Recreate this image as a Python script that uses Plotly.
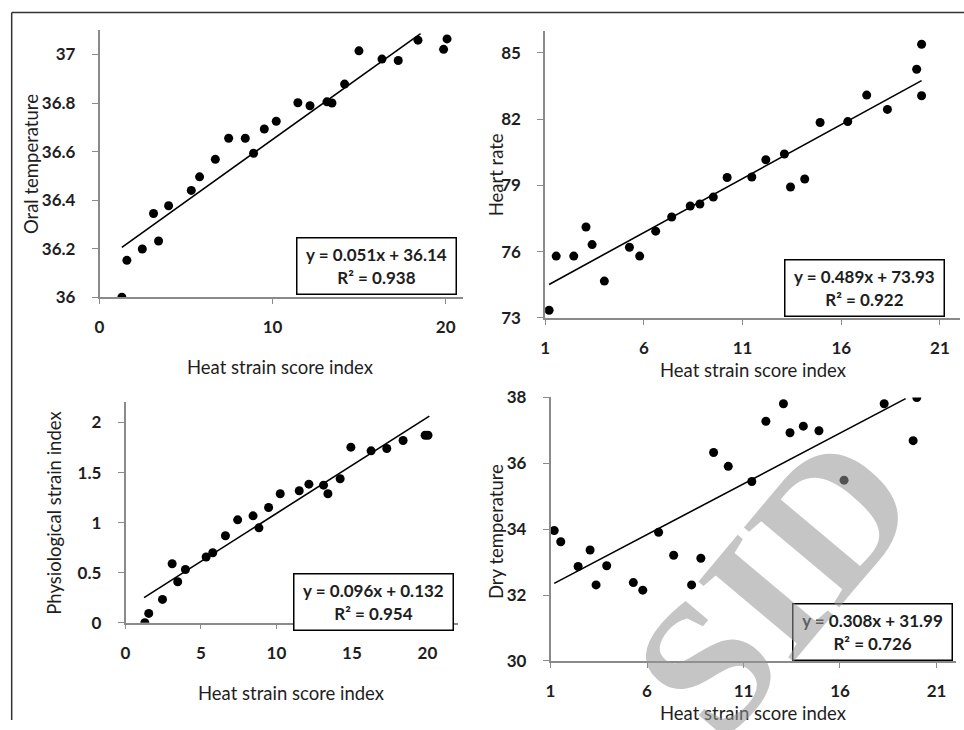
import plotly.graph_objects as go

# ---------------- data ----------------
x_label = "Heat strain score index"

# Panel 1: Oral temperature
p1_x = [1.29, 1.58, 2.47, 3.12, 3.41, 3.99, 5.30, 5.78, 6.69, 7.46, 8.42, 8.90, 9.52, 10.21,
        11.46, 12.16, 13.14, 13.43, 14.16, 14.99, 16.32, 17.26, 18.40, 19.88, 20.08]
p1_y = [36.00, 36.152, 36.199, 36.345, 36.232, 36.377, 36.440, 36.496, 36.568, 36.655, 36.655,
        36.593, 36.693, 36.725, 36.801, 36.789, 36.805, 36.800, 36.878, 37.015, 36.981, 36.975,
        37.059, 37.021, 37.064]
p1_fit = (0.051, 36.14)
p1_fit_x = [1.29, 18.55]
p1_eq = "y = 0.051x + 36.14"
p1_r2 = "0.938"
p1_ylabel = "Oral temperature"
p1_xticks = [0, 10, 20]
p1_yticks = [36, 36.2, 36.4, 36.6, 36.8, 37]
p1_yticktext = ["36", "36.2", "36.4", "36.6", "36.8", "37"]

# Panel 2: Heart rate
p2_x = [1.20, 1.56, 2.45, 3.07, 3.38, 4.00, 5.27, 5.79, 6.60, 7.41, 8.35, 8.84, 9.52, 10.22,
        11.47, 12.18, 13.12, 13.43, 14.15, 14.93, 16.33, 17.29, 18.34, 19.82, 20.07, 20.07]
p2_y = [73.35, 75.80, 75.80, 77.12, 76.32, 74.67, 76.20, 75.80, 76.93, 77.57, 78.07, 78.16,
        78.47, 79.36, 79.38, 80.16, 80.42, 78.93, 79.29, 81.85, 81.89, 83.09, 82.44, 84.26,
        85.39, 83.06]
p2_fit = (0.489, 73.93)
p2_fit_x = [1.20, 20.07]
p2_eq = "y = 0.489x + 73.93"
p2_r2 = "0.922"
p2_ylabel = "Heart rate"
p2_xticks = [1, 6, 11, 16, 21]
p2_yticks = [73, 76, 79, 82, 85]

# Panel 3: Physiological strain index
p3_x = [1.28, 1.54, 2.45, 3.09, 3.46, 3.97, 5.34, 5.78, 6.62, 7.43, 8.45, 8.84, 9.48, 10.25,
        11.51, 12.15, 13.12, 13.41, 14.22, 14.93, 16.27, 17.31, 18.39, 19.85, 20.04]
p3_y = [0.0, 0.093, 0.233, 0.589, 0.409, 0.532, 0.656, 0.699, 0.869, 1.028, 1.068, 0.948,
        1.151, 1.288, 1.318, 1.384, 1.374, 1.288, 1.438, 1.754, 1.717, 1.740, 1.820, 1.873, 1.873]
p3_fit = (0.096, 0.132)
p3_fit_x = [1.23, 20.13]
p3_eq = "y = 0.096x + 0.132"
p3_r2 = "0.954"
p3_ylabel = "Physiological strain index"
p3_xticks = [0, 5, 10, 15, 20]
p3_yticks = [0, 0.5, 1, 1.5, 2]
p3_yticktext = ["0", "0.5", "1", "1.5", "2"]

# Panel 4: Dry temperature
p4_x = [1.19, 1.53, 2.43, 3.05, 3.36, 3.91, 5.29, 5.78, 6.60, 7.38, 8.31, 8.79, 9.45, 10.21,
        11.43, 12.16, 13.07, 13.41, 14.10, 14.91, 16.21, 18.29, 19.79, 19.98]
p4_y = [33.96, 33.62, 32.87, 33.37, 32.31, 32.89, 32.38, 32.15, 33.91, 33.21, 32.31, 33.12,
        36.33, 35.91, 35.45, 37.28, 37.81, 36.93, 37.13, 36.99, 35.49, 37.81, 36.69, 38.00]
p4_fit = (0.308, 31.99)
p4_fit_x = [1.19, 19.40]
p4_eq = "y = 0.308x + 31.99"
p4_r2 = "0.726"
p4_ylabel = "Dry temperature"
p4_xticks = [1, 6, 11, 16, 21]
p4_yticks = [30, 32, 34, 36, 38]

watermark = "SID"

# ---------------- layout helpers ----------------
W, H = 964, 730
FONT = "Lato, 'Open Sans', sans-serif"
AX_COLOR = "#8a8a8a"
TXT = "#1e1e1e"

# placement targets are given in picture pixels; these constants map them
# onto figure pixels for the capture used here
OX, SX, OY, SY = 3.3, 0.9964, 10.5, 0.972


def fx(px):
    return ((px - OX) / SX) / W


def fy(py):
    return 1 - ((py - OY) / SY) / H


panels = [
    dict(x=p1_x, y=p1_y, fit=p1_fit, fit_x=p1_fit_x, eq=p1_eq, r2=p1_r2, ylabel=p1_ylabel,
         xticks=p1_xticks, yticks=p1_yticks, yticktext=p1_yticktext,
         xdom=(98, 462), ydom=(29.7, 297), xr=[0, 21], yr=[36, 37.1],
         box=(375, 265.5), xt=(279, 367), yt=(30, 164)),
    dict(x=p2_x, y=p2_y, fit=p2_fit, fit_x=p2_fit_x, eq=p2_eq, r2=p2_r2, ylabel=p2_ylabel,
         xticks=p2_xticks, yticks=p2_yticks, yticktext=[str(v) for v in p2_yticks],
         xdom=(544.3, 959.5), ydom=(30.3, 317.7), xr=[1, 22], yr=[73, 86],
         box=(864, 287.5), xt=(752, 370), yt=(495, 174)),
    dict(x=p3_x, y=p3_y, fit=p3_fit, fit_x=p3_fit_x, eq=p3_eq, r2=p3_r2, ylabel=p3_ylabel,
         xticks=p3_xticks, yticks=p3_yticks, yticktext=p3_yticktext,
         xdom=(124, 456.6), ydom=(402.3, 622.7), xr=[0, 22], yr=[0, 2.2],
         box=(372.5, 601.5), xt=(290, 693), yt=(52, 513)),
    dict(x=p4_x, y=p4_y, fit=p4_fit, fit_x=p4_fit_x, eq=p4_eq, r2=p4_r2, ylabel=p4_ylabel,
         xticks=p4_xticks, yticks=p4_yticks, yticktext=[str(v) for v in p4_yticks],
         xdom=(549.7, 955.6), ydom=(397.3, 661), xr=[1, 22], yr=[30, 38],
         box=(872.5, 631.5), xt=(752, 713), yt=(495, 531)),
]

fig = go.Figure()
annotations = []
layout = {}

for i, p in enumerate(panels, start=1):
    xa = "x" if i == 1 else f"x{i}"
    ya = "y" if i == 1 else f"y{i}"
    m, b = p["fit"]
    fig.add_trace(go.Scatter(
        x=p["fit_x"], y=[m * v + b for v in p["fit_x"]], mode="lines",
        line=dict(color="black", width=1.6), xaxis=xa, yaxis=ya, showlegend=False,
        hoverinfo="skip"))
    fig.add_trace(go.Scatter(
        x=p["x"], y=p["y"], mode="markers",
        marker=dict(color="black", size=9), xaxis=xa, yaxis=ya, showlegend=False))

    xkey = "xaxis" if i == 1 else f"xaxis{i}"
    ykey = "yaxis" if i == 1 else f"yaxis{i}"
    layout[xkey] = dict(
        domain=[fx(p["xdom"][0]), fx(p["xdom"][1])], anchor=ya, range=p["xr"],
        tickvals=p["xticks"], ticktext=[str(v) for v in p["xticks"]],
        showgrid=False, zeroline=False, showline=True, linecolor=AX_COLOR, linewidth=1.5,
        ticks="outside", ticklen=5, tickwidth=1.2, tickcolor=AX_COLOR,
        ticklabelstandoff=9,
        tickfont=dict(family=FONT, size=17, color=TXT, weight="bold"))
    layout[ykey] = dict(
        domain=[fy(p["ydom"][1]), fy(p["ydom"][0])], anchor=xa, range=p["yr"],
        tickvals=p["yticks"], ticktext=p["yticktext"],
        showgrid=False, zeroline=False, showline=True, linecolor=AX_COLOR, linewidth=1.5,
        ticks="outside", ticklen=6, tickwidth=1.2, tickcolor=AX_COLOR,
        ticklabelstandoff=13,
        tickfont=dict(family=FONT, size=17, color=TXT, weight="bold"))

    # equation box
    annotations.append(dict(
        xref="paper", yref="paper", x=fx(p["box"][0]), y=fy(p["box"][1]),
        xanchor="center", yanchor="middle", showarrow=False, align="center",
        text=f"{p['eq']}<br>R² = {p['r2']}",
        font=dict(family=FONT, size=17, color=TXT, weight="bold"),
        bordercolor="black", borderwidth=1.5, borderpad=0, bgcolor="white",
        width=158, height=55))
    # axis titles
    annotations.append(dict(
        xref="paper", yref="paper", x=fx(p["xt"][0]), y=fy(p["xt"][1]),
        xanchor="center", yanchor="middle", showarrow=False, text=x_label,
        font=dict(family=FONT, size=18.5, color=TXT)))
    annotations.append(dict(
        xref="paper", yref="paper", x=fx(p["yt"][0]), y=fy(p["yt"][1]),
        xanchor="center", yanchor="middle", showarrow=False, text=p["ylabel"],
        textangle=-90, font=dict(family=FONT, size=18.5, color=TXT)))

# watermark
annotations.append(dict(
    xref="paper", yref="paper", x=fx(774), y=fy(585), xanchor="center", yanchor="middle",
    showarrow=False, text=watermark, textangle=-50,
    font=dict(family="Liberation Serif, serif", size=190, color="rgba(150,150,150,0.55)",
              weight="bold")))

fig.update_layout(
    width=W, height=H, margin=dict(l=0, r=0, t=0, b=0),
    paper_bgcolor="white", plot_bgcolor="white",
    annotations=annotations,
    shapes=[
        dict(type="line", xref="paper", yref="paper", x0=fx(10), x1=1, y0=fy(12), y1=fy(12),
             line=dict(color="#333333", width=1.5)),
        dict(type="line", xref="paper", yref="paper", x0=fx(10), x1=fx(10), y0=fy(12), y1=0,
             line=dict(color="#333333", width=1.5)),
    ],
    **layout,
)

fig.write_html(
    "out.html",
    config={"displayModeBar": False},
    post_script=(
        "document.body.style.margin='0';document.body.style.padding='0';"
        "document.body.style.overflow='hidden';"
        "document.documentElement.style.overflow='hidden';"
    ),
)
